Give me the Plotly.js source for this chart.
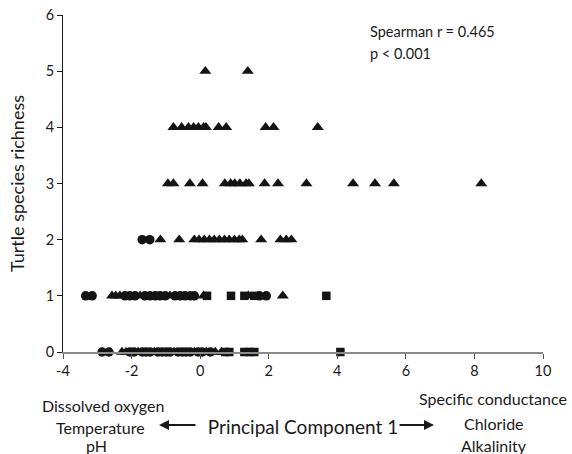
<!DOCTYPE html>
<html>
<head>
<meta charset="utf-8">
<script src="https://cdn.plot.ly/plotly-3.0.1.min.js"></script>
<style>html,body{margin:0;padding:0;background:#fff;}#chart{width:572px;height:454px;}</style>
</head>
<body>
<div id="chart"></div>
<script>
// Circles
const circleX = [-1.69, -1.47,
  -3.34, -3.15, -2.19, -2.05, -1.90, -1.61, -1.46, -1.31, -1.17, -1.02, -0.73, -0.58, -0.44, -0.29, -0.17, 1.73, 1.93,
  -2.86, -2.66, -2.05, -1.93, -1.69, -1.58, -1.46, -1.23, -1.11, -0.99, -0.88, -0.64, -0.52, -0.41, -0.29, -0.06, 0.06, 0.30];
const circleY = [2, 2,
  1, 1, 1, 1, 1, 1, 1, 1, 1, 1, 1, 1, 1, 1, 1, 1, 1,
  0, 0, 0, 0, 0, 0, 0, 0, 0, 0, 0, 0, 0, 0, 0, 0, 0, 0];
// Triangles
const triX = [0.15, 1.39,
  -0.78, -0.54, -0.34, -0.19, -0.05, 0.10, 0.17, 0.54, 0.76, 1.91, 2.14, 3.43,
  -0.94, -0.78, -0.30, 0.07, 0.72, 0.89, 1.01, 1.16, 1.34, 1.42, 1.88, 2.27, 3.10, 4.46, 5.10, 5.65, 8.20,
  -1.16, -0.61, -0.17, -0.03, 0.12, 0.27, 0.41, 0.56, 0.71, 0.85, 1.00, 1.14, 1.23, 1.78, 2.34, 2.51, 2.66,
  -2.57, -2.46, -2.34, -1.75, -0.88, 0.10, 1.41, 2.41,
  -2.28, -2.16, -1.81, -1.34, -0.76, -0.17, 0.18, 0.44, 0.62];
const triY = [5, 5,
  4, 4, 4, 4, 4, 4, 4, 4, 4, 4, 4, 4,
  3, 3, 3, 3, 3, 3, 3, 3, 3, 3, 3, 3, 3, 3, 3, 3, 3,
  2, 2, 2, 2, 2, 2, 2, 2, 2, 2, 2, 2, 2, 2, 2, 2, 2,
  1, 1, 1, 1, 1, 1, 1, 1,
  0, 0, 0, 0, 0, 0, 0, 0, 0];
// Squares
const sqX = [0.20, 0.90, 1.29, 1.58, 3.68,
  0.73, 0.85, 1.29, 1.44, 1.58, 4.09];
const sqY = [1, 1, 1, 1, 1,
  0, 0, 0, 0, 0, 0];

const xTicks = [-4, -2, 0, 2, 4, 6, 8, 10];
const yTicks = [0, 1, 2, 3, 4, 5, 6];

const FONT = 'Lato, "Open Sans", sans-serif';
const INK = '#141414';

const traces = [
  {x: circleX, y: circleY, type: 'scatter', mode: 'markers', cliponaxis: false,
   marker: {symbol: 'circle', size: 9.5, color: INK}},
  {x: triX, y: triY, type: 'scatter', mode: 'markers', cliponaxis: false,
   marker: {symbol: 'triangle-up', size: 10.5, color: INK}},
  {x: sqX, y: sqY, type: 'scatter', mode: 'markers', cliponaxis: false,
   marker: {symbol: 'square', size: 8.5, color: INK}}
];

function txt(text, x, y, size, xanchor) {
  return {text: text, x: x, y: y, xref: 'paper', yref: 'paper', showarrow: false,
    xanchor: xanchor || 'center', yanchor: 'middle', font: {family: FONT, size: size, color: '#1a1a1a'}};
}
function arrow(x, ax) {
  return {x: x, y: -0.2166, xref: 'paper', yref: 'paper', text: '', showarrow: true,
    ax: ax, ay: 0, arrowhead: 2, arrowsize: 1, arrowwidth: 2, arrowcolor: '#1a1a1a'};
}

const layout = {
  width: 572, height: 454,
  margin: {l: 63, r: 29, t: 15, b: 102},
  paper_bgcolor: '#fff', plot_bgcolor: '#fff',
  showlegend: false,
  font: {family: FONT, size: 14, color: '#1a1a1a'},
  xaxis: {range: [-4, 10], tickvals: xTicks, ticktext: xTicks.map(String),
    showgrid: false, zeroline: false, showline: true, linecolor: '#8a8a8a', linewidth: 1.5,
    ticks: 'outside', ticklen: 5, tickcolor: '#555', tickwidth: 1,
    tickfont: {family: FONT, size: 14.5, color: '#1a1a1a'},
    title: {text: 'Principal Component 1', font: {family: FONT, size: 19, color: '#1a1a1a'}, standoff: 43},
    fixedrange: true},
  yaxis: {range: [0, 6], tickvals: yTicks, ticktext: yTicks.map(String),
    showgrid: false, zeroline: false, showline: true, linecolor: '#1a1a1a', linewidth: 1,
    ticks: 'outside', ticklen: 5, tickcolor: '#1a1a1a', tickwidth: 1,
    tickfont: {family: FONT, size: 14.5, color: '#1a1a1a'},
    title: {text: 'Turtle species richness', font: {family: FONT, size: 18, color: '#1a1a1a'}, standoff: 16},
    fixedrange: true},
  annotations: [
    txt('Spearman r = 0.465', 0.6354, 0.9496, 14.5, 'left'),
    txt('p &lt; 0.001', 0.6354, 0.8872, 14.5, 'left'),
    txt('Dissolved oxygen', 0.0833, -0.1588, 16),
    txt('Temperature', 0.0771, -0.2226, 16),
    txt('pH', 0.0708, -0.2789, 16),
    txt('Specific conductance', 0.8958, -0.1365, 16),
    txt('Chloride', 0.8979, -0.2107, 16),
    txt('Alkalinity', 0.8979, -0.2760, 16),
    arrow(0.2000, 38),
    arrow(0.7729, -36)
  ]
};

Plotly.newPlot('chart', traces, layout, {staticPlot: true, displayModeBar: false});
</script>
</body>
</html>
